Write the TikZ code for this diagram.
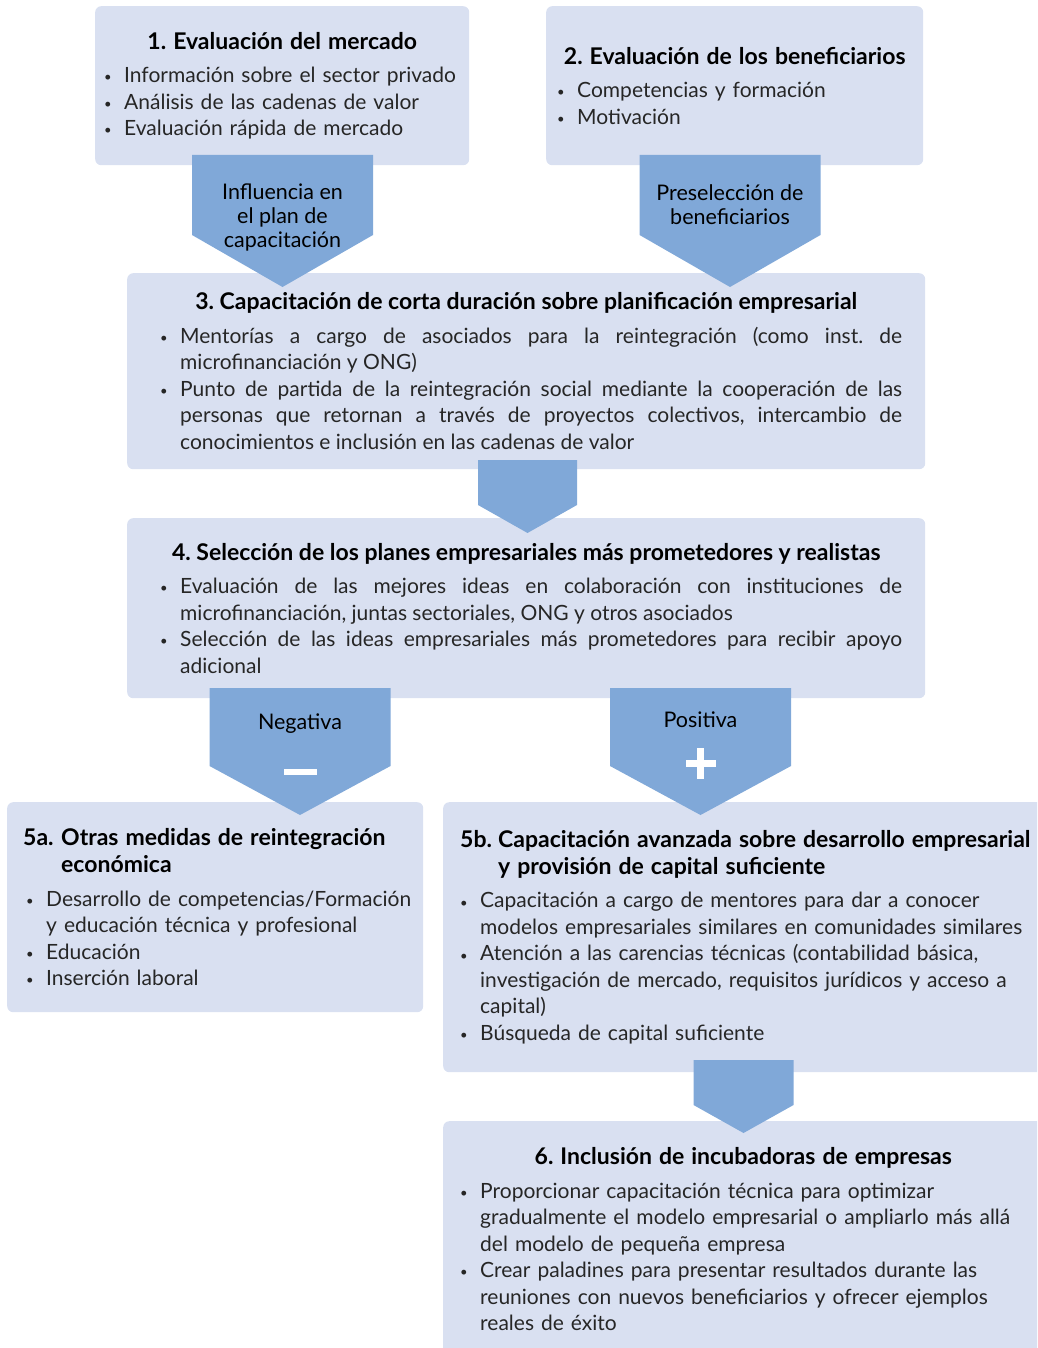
\documentclass[tikz,border=0pt]{standalone}
\usepackage{fontspec}
\setmainfont{Lato}
\usetikzlibrary{positioning}
\definecolor{boxfill}{HTML}{D9E0F1}
\definecolor{arrowfill}{HTML}{80A8D8}
\definecolor{bodytext}{HTML}{262626}
\frenchspacing
\hyphenpenalty=10000

\newlength{\bulskip}
\newcommand{\nl}{\unskip\hfil\break}
\newcommand{\bul}{\raisebox{0.8pt}{\fontsize{13}{13}\selectfont\textbullet}}
\newcommand{\itm}[1]{\par\hangindent=\dimexpr\bulskip+20pt\relax\hangafter=1\noindent\hspace*{\bulskip}\makebox[20pt][l]{\bul}#1\par}
\newcommand{\ttl}[1]{{\centering\fontsize{23}{27}\selectfont\bfseries\color{black}#1\par}\vspace{7pt}}
\newcommand{\httl}[3][0pt]{{\fontsize{23}{27}\selectfont\bfseries\color{black}\hangindent=\dimexpr#1+38pt\relax\hangafter=1\noindent\hspace*{#1}\makebox[38pt][l]{#2}#3\par}\vspace{7pt}}
\newcommand{\chevron}[5]{\fill[arrowfill] ({#1-#3},#2) -- ({#1+#3},#2) -- ({#1+#3},#4) -- (#1,#5) -- ({#1-#3},#4) -- cycle;}

\begin{document}
\begin{tikzpicture}[x=1pt, y=-1pt, font=\fontsize{21}{26.5}\selectfont,
  panel/.style={fill=boxfill, rounded corners=6pt, anchor=north west, inner ysep=0pt, text=bodytext},
  tag/.style={align=center, font=\fontsize{21.5}{24}\selectfont, text=black, inner sep=0pt}]
\useasboundingbox (0,0) rectangle (1037,1348);
\clip (0,0) rectangle (1037,1348);

% boxes
\node[panel, align=left, inner xsep=9pt, text width=356pt, minimum width=374pt, minimum height=159pt] (mercado) at (95,6) {%
  \ttl{1. Evaluación del mercado}
  \itm{Información sobre el sector privado}
  \itm{Análisis de las cadenas de valor}
  \itm{Evaluación rápida de mercado}};
\node[panel, align=left, inner xsep=11pt, text width=355pt, minimum width=377pt, minimum height=159pt] (beneficiarios) at (546,6) {%
  \ttl{2. Evaluación de los beneficiarios}
  \itm{Competencias y formación}
  \itm{Motivación}};
\node[panel, align=justify, inner xsep=23pt, text width=752pt, minimum width=798pt, minimum height=196pt,
  execute at begin node={\setlength{\bulskip}{10pt}}] (corta) at (127,273) {%
  \ttl{3. Capacitación de corta duración sobre planificación empresarial}
  \itm{Mentorías a cargo de asociados para la reintegración (como inst. de\linebreak microfinanciación y ONG)}
  \itm{Punto de partida de la reintegración social mediante la cooperación de las\linebreak personas que retornan a través de proyectos colectivos, intercambio de\linebreak conocimientos e inclusión en las cadenas de valor}};
\node[panel, align=justify, inner xsep=23pt, text width=752pt, minimum width=798pt, minimum height=180pt,
  execute at begin node={\setlength{\bulskip}{10pt}}] (seleccion) at (127,518) {%
  \ttl{4. Selección de los planes empresariales más prometedores y realistas}
  \itm{Evaluación de las mejores ideas en colaboración con instituciones de\linebreak microfinanciación, juntas sectoriales, ONG y otros asociados}
  \itm{Selección de las ideas empresariales más prometedores para recibir apoyo\linebreak adicional}};
\node[panel, align=left, inner xsep=8pt, text width=400pt, minimum width=416pt, minimum height=210pt,
  execute at begin node={\setlength{\bulskip}{11pt}}] (otras) at (7,802) {%
  \httl[8pt]{5a.}{Otras medidas de reintegración\nl económica}
  \itm{Desarrollo de competencias/Formación\nl y educación técnica y profesional}
  \itm{Educación}
  \itm{Inserción laboral}};
\node[panel, align=left, inner xsep=17pt, text width=600pt, minimum width=634pt, minimum height=270pt] (avanzada) at (443,802) {%
  \httl{5b.}{Capacitación avanzada sobre desarrollo empresarial\nl y provisión de capital suficiente}
  \itm{Capacitación a cargo de mentores para dar a conocer\nl modelos empresariales similares en comunidades similares}
  \itm{Atención a las carencias técnicas (contabilidad básica,\nl investigación de mercado, requisitos jurídicos y acceso a\nl capital)}
  \itm{Búsqueda de capital suficiente}};
\node[panel, align=left, inner xsep=17pt, text width=566pt, minimum width=600pt, minimum height=236pt] (incubadoras) at (443,1121) {%
  \ttl{6. Inclusión de incubadoras de empresas}
  \itm{Proporcionar capacitación técnica para optimizar\nl gradualmente el modelo empresarial o ampliarlo más allá\nl del modelo de pequeña empresa}
  \itm{Crear paladines para presentar resultados durante las\nl reuniones con nuevos beneficiarios y ofrecer ejemplos\nl reales de éxito}};

% arrows
\chevron{282.5}{155}{90.5}{235}{287}
\chevron{730}{155}{90.5}{235}{287}
\chevron{527.5}{460}{49.5}{505}{533}
\chevron{300}{688}{90.5}{766}{815}
\chevron{700.5}{688}{90.5}{766}{815}
\chevron{743.5}{1060}{50}{1105}{1133}

\node[tag] (influencia) at (282.5,217) {Influencia en\\el plan de\\capacitación};
\node[tag] (preseleccion) at (730,205) {Preselección de\\beneficiarios};
\node[tag, anchor=base] (negativa) at (300,729) {Negativa};
\node[tag, anchor=base] (positiva) at (700.5,727) {Positiva};
\fill[white] (283.5,769) rectangle (316.5,775);
\fill[white] (686,759.5) rectangle (716,766.5);
\fill[white] (697,748) rectangle (704,779);
\end{tikzpicture}
\end{document}
